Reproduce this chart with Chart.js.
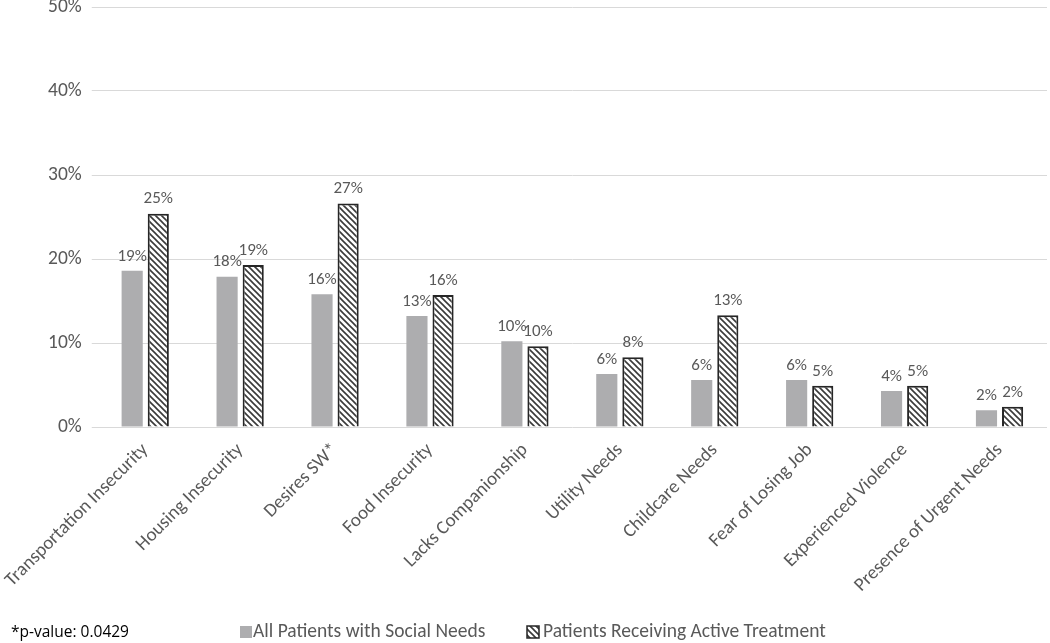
<!DOCTYPE html>
<html lang="en">
<head>
<meta charset="UTF-8">
<title>Social Needs</title>
<script src="https://cdn.jsdelivr.net/npm/chart.js@4.4.1/dist/chart.umd.min.js"></script>
<style>
  html, body { margin: 0; padding: 0; background: #fff; }
  #wrap { width: 1050px; height: 643px; position: relative; }
</style>
</head>
<body>
<div id="wrap"><canvas id="chart" width="1050" height="643"></canvas></div>
<script>
// data (percent)
const categories = [
  'Transportation Insecurity', 'Housing Insecurity', 'Desires SW*', 'Food Insecurity',
  'Lacks Companionship', 'Utility Needs', 'Childcare Needs', 'Fear of Losing Job',
  'Experienced Violence', 'Presence of Urgent Needs'
];
const allPatients = [18.6, 17.9, 15.8, 13.2, 10.2, 6.3, 5.6, 5.6, 4.3, 2.0];
const activeTreatment = [25.4, 19.3, 26.6, 15.7, 9.6, 8.3, 13.3, 4.9, 4.9, 2.4];
const yTicks = [0, 10, 20, 30, 40, 50];
const seriesNames = ['All Patients with Social Needs', 'Patients Receiving Active Treatment'];
const footnote = '*p-value: 0.0429';

const FONT = "Carlito, 'Liberation Sans Narrow', 'Open Sans', sans-serif";
const TEXT = '#595959';
const GRAY = '#adadaf';

// diagonal hatch "\\\\"
function makeHatch() {
  const c = document.createElement('canvas');
  c.width = 6; c.height = 6;
  const g = c.getContext('2d');
  g.fillStyle = '#ffffff';
  g.fillRect(0, 0, 6, 6);
  g.strokeStyle = '#3a3a3a';
  g.lineWidth = 1.6;
  g.beginPath();
  g.moveTo(-3, -3); g.lineTo(9, 9);
  g.moveTo(-3, 3); g.lineTo(3, 9);
  g.moveTo(3, -3); g.lineTo(9, 3);
  g.stroke();
  return g.createPattern(c, 'repeat');
}
const hatch = makeHatch();

// value labels above bars
const barLabels = {
  id: 'barLabels',
  afterDatasetsDraw(chart) {
    const ctx = chart.ctx;
    ctx.save();
    ctx.font = '17px ' + FONT;
    ctx.fillStyle = TEXT;
    ctx.textAlign = 'center';
    ctx.textBaseline = 'bottom';
    chart.data.datasets.forEach((ds, i) => {
      chart.getDatasetMeta(i).data.forEach((el, j) => {
        ctx.fillText(Math.round(ds.data[j]) + '%', el.x, el.y - 6);
      });
    });
    ctx.restore();
  }
};

// footnote and legend at the bottom
const bottomLegend = {
  id: 'bottomLegend',
  afterDraw(chart) {
    const ctx = chart.ctx;
    ctx.save();
    ctx.textBaseline = 'middle';
    ctx.textAlign = 'left';
    ctx.font = "15.5px 'Open Sans', sans-serif";
    ctx.fillStyle = '#000';
    ctx.fillText(footnote, 11, 633);

    const y = 632;
    ctx.font = '19.5px ' + FONT;
    ctx.fillStyle = GRAY;
    ctx.fillRect(240, y - 6, 12, 12);
    ctx.fillStyle = TEXT;
    ctx.fillText(seriesNames[0], 253, y);

    ctx.fillStyle = hatch;
    ctx.fillRect(527, y - 6, 12, 12);
    ctx.strokeStyle = '#262626';
    ctx.lineWidth = 1.5;
    ctx.strokeRect(527, y - 6, 12, 12);
    ctx.fillStyle = TEXT;
    ctx.fillText(seriesNames[1], 543, y);
    ctx.restore();
  }
};

new Chart(document.getElementById('chart'), {
  type: 'bar',
  data: {
    labels: categories,
    datasets: [
      {
        label: seriesNames[0],
        data: allPatients,
        backgroundColor: GRAY,
        borderWidth: 0,
        categoryPercentage: 0.55,
        barPercentage: 0.81
      },
      {
        label: seriesNames[1],
        data: activeTreatment,
        backgroundColor: hatch,
        borderColor: '#262626',
        borderWidth: 2,
        borderSkipped: 'bottom',
        categoryPercentage: 0.55,
        barPercentage: 0.81
      }
    ]
  },
  options: {
    responsive: false,
    animation: false,
    layout: { padding: { top: 7, right: 3, left: 0, bottom: 0 } },
    plugins: {
      legend: { display: false },
      tooltip: { enabled: false }
    },
    scales: {
      x: {
        grid: { display: false },
        border: { display: false },
        ticks: {
          color: TEXT,
          font: { size: 19, family: FONT },
          minRotation: 45,
          maxRotation: 45,
          autoSkip: false,
          padding: 4
        },
        afterFit(scale) { scale.height = 216; }
      },
      y: {
        min: 0,
        max: 50,
        afterBuildTicks(scale) { scale.ticks = yTicks.map(v => ({ value: v })); },
        grid: { color: '#d9d9d9', lineWidth: 1, tickLength: 6 },
        border: { display: false },
        ticks: {
          color: TEXT,
          font: { size: 19.5, family: FONT },
          padding: 10,
          callback: v => v + '%'
        },
        afterFit(scale) {
          scale.width = 95;
          scale.paddingTop = 0;
          scale.paddingBottom = 0;
        }
      }
    }
  },
  plugins: [barLabels, bottomLegend]
});
</script>
</body>
</html>
